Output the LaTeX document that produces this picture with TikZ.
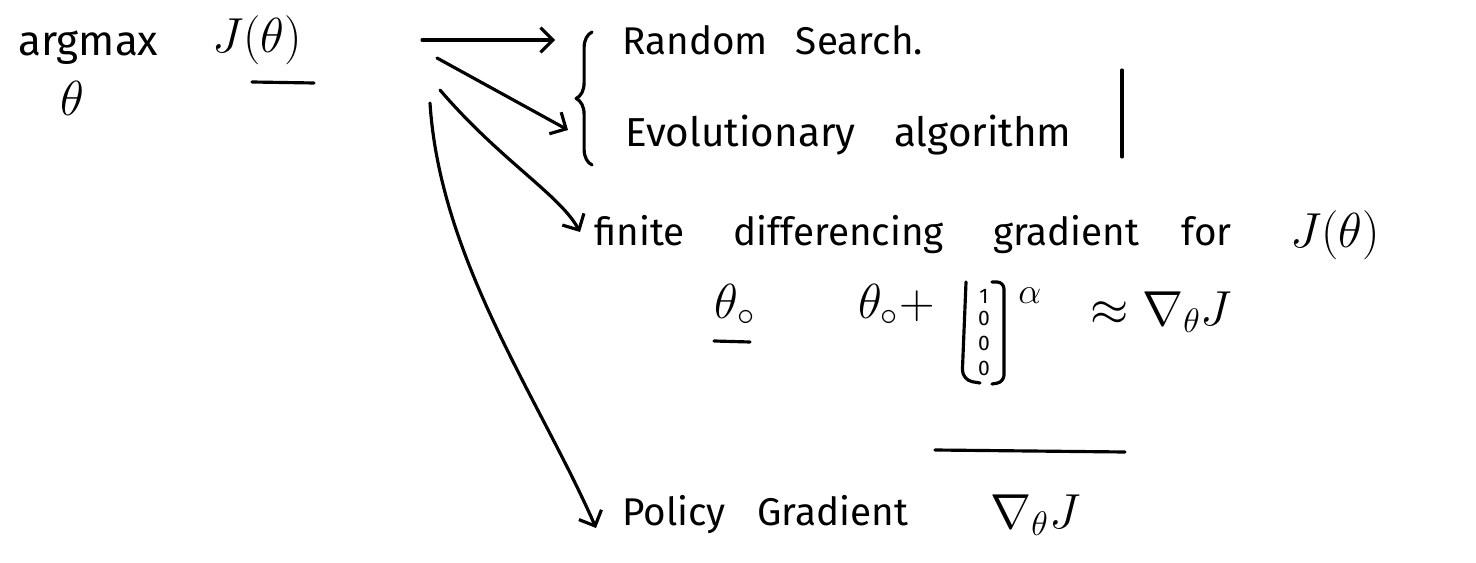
\documentclass[tikz,border=0pt]{standalone}
\usepackage{graphicx}
\usepackage{fontspec}
\setmainfont{Fira Sans}
\usetikzlibrary{arrows.meta,decorations.pathreplacing}
\newcommand{\myenlarge}[1]{\scalebox{1.35}{#1}}
\begin{document}
\begin{tikzpicture}[x=0.02cm,y=-0.02cm,
  hand/.style={line width=1.8pt,line cap=round,line join=round},
  arr/.style={hand,-{Straight Barb[length=7pt,width=14pt,line width=1.8pt]}},
  txt/.style={font=\fontsize{22}{26}\selectfont,inner sep=0pt,anchor=west},
  big/.style={font=\fontsize{22}{26}\selectfont,inner sep=0pt,anchor=west},
  small/.style={font=\fontsize{12}{14}\selectfont,inner sep=0pt}]
\useasboundingbox (0,0) rectangle (1476,563);
% left expression
\node[txt,font=\fontsize{24}{28}\selectfont] (argmax) at (18,48) {argmax};
\node[big,anchor=center] (theta) at (72,98) {\myenlarge{$\theta$}};
\node[big] (J) at (212,40) {\myenlarge{$J(\theta)$}};
\coordinate (ul1a) at (252,82); \coordinate (ul1b) at (314,83);
\draw[hand] (ul1a) -- (ul1b);
% targets
\node[txt] (rs) at (622,40) {Random\hspace{16pt}Search.};
\node[txt,font=\fontsize{23}{26}\selectfont] (evo) at (625,135) {Evolutionary\hspace{22pt}algorithm};
\coordinate (bar1) at (1122,70); \coordinate (bar2) at (1122,157);
\draw[hand] (bar1) -- (bar2);
\coordinate (br1) at (592,165); \coordinate (br2) at (592,32);
\draw[hand,decorate,decoration={brace,amplitude=9pt}] (br1) -- (br2);
\node[txt] (fd) at (594,235) {finite\hspace{28pt}differencing\hspace{28pt}gradient\hspace{24pt}for};
\node[big] (fdj) at (1290,235) {\myenlarge{$J(\theta)$}};
\node[big,anchor=center] (t0) at (735,305) {\myenlarge{$\theta_{\circ}$}};
\coordinate (ul2a) at (714,341); \coordinate (ul2b) at (750,342);
\draw[hand] (ul2a) -- (ul2b);
\node[big] (t0p) at (858,305) {\myenlarge{$\theta_{\circ}{+}$}};
% vector
\coordinate (lb1) at (966,282); \coordinate (lb2) at (962,385);
\coordinate (rb1) at (994,282); \coordinate (rb2) at (1004,382);
\draw[hand,rounded corners=6pt] (lb1) -- (lb2 |- 0,380) -- (980,383);
\draw[hand,rounded corners=4pt] (992,282) -- (1004,282) -- (rb2) -- (992,384);
\node[small] (v1) at (984,296) {1};
\node[small] (v2) at (984,318) {0};
\node[small] (v3) at (984,343) {0};
\node[small] (v4) at (984,368) {0};
\node[txt] (alpha) at (1018,296) {$\alpha$};
\node[big] (approx) at (1090,312) {\myenlarge{$\approx\nabla_{\theta}J$}};
\coordinate (ul3a) at (935,450); \coordinate (ul3b) at (1125,452);
\draw[hand] (ul3a) -- (ul3b);
\node[txt] (pg) at (622,515) {Policy\hspace{18pt}Gradient};
\node[big] (pgn) at (990,515) {\myenlarge{$\nabla_{\theta}J$}};
% arrows
\coordinate (s1) at (422,40); \coordinate (e1) at (555,40);
\coordinate (s2) at (437,58); \coordinate (e2) at (568,130);
\coordinate (s3) at (440,90); \coordinate (e3) at (580,232);
\coordinate (s4) at (430,103); \coordinate (e4) at (596,528);
\draw[arr] (s1) -- (e1);
\draw[arr] (s2) -- (e2);
\draw[arr] (s3) .. controls (500,160) and (560,195) .. (e3);
\draw[arr] (s4) .. controls (440,260) and (540,400) .. (e4);
\end{tikzpicture}
\end{document}
